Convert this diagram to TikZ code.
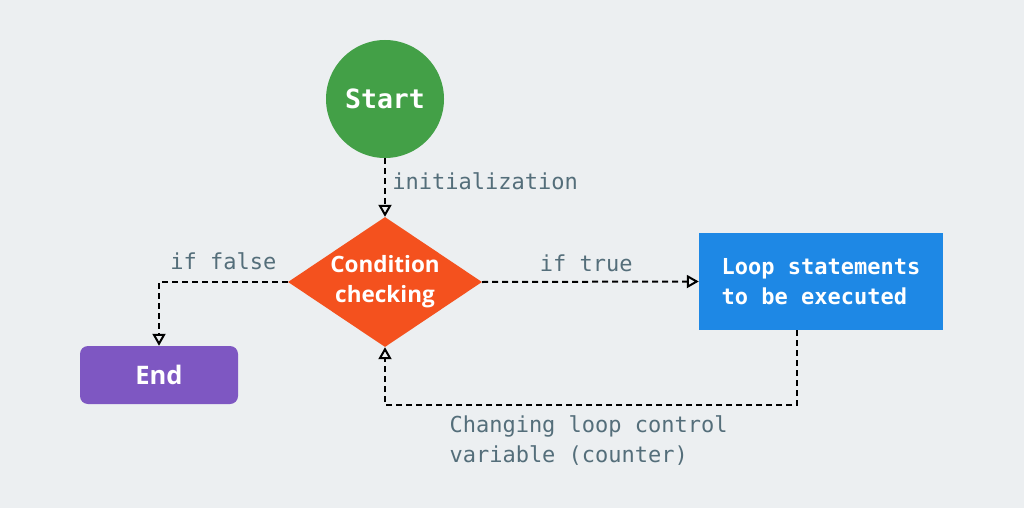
\documentclass[tikz,border=0pt]{standalone}
\usepackage{fontspec}
\setmonofont{DejaVu Sans Mono}
\setsansfont{Open Sans}[BoldFont={Open Sans Bold}]
\usetikzlibrary{positioning, arrows.meta, shapes.geometric}

\definecolor{bgcol}{HTML}{ECEFF1}
\definecolor{startcol}{HTML}{43A047}
\definecolor{condcol}{HTML}{F4511E}
\definecolor{loopcol}{HTML}{1E88E5}
\definecolor{endcol}{HTML}{7E57C2}
\definecolor{labelcol}{HTML}{546E7A}

\begin{document}
\begin{tikzpicture}[
    x=1pt, y=-1pt,
    % Define common styles
        startnode/.style={circle, fill=startcol, text=white, minimum size=118pt, inner sep=0pt, font=\ttfamily\bfseries\fontsize{26.5}{30}\selectfont},
        condnode/.style={diamond, fill=condcol, text=white, minimum width=194pt, minimum height=130pt, inner sep=-14pt, align=center, font=\sffamily\bfseries\fontsize{22.5}{30}\selectfont},
        loopnode/.style={rectangle, fill=loopcol, text=white, minimum width=244pt, minimum height=97pt, align=left, font=\ttfamily\bfseries\fontsize{22}{30}\selectfont},
        endnode/.style={rectangle, rounded corners=8pt, fill=endcol, text=white, minimum width=158pt, minimum height=58pt, font=\sffamily\bfseries\fontsize{25.5}{30}\selectfont},
        lbl/.style={text=labelcol, align=left, font=\ttfamily\fontsize{22}{30}\selectfont},
        arrow/.style={-{Triangle[open, length=12pt, width=13pt]}, line width=2pt, dash pattern=on 6pt off 4pt}
    ]

        % Background
        \fill[bgcol] (0,0) rectangle (1024,508);
        \useasboundingbox (0,0) rectangle (1024,508);

        % Flowchart nodes
        \node[startnode] (start) at (385,99) {Start};
        \node[condnode] (cond) at (385,282) {Condition\\checking};
        \node[loopnode] (loop) at (821,281.5) {Loop statements\\to be executed};
        \node[endnode] (end) at (159,375) {End};

        % Initialization arrow
        \draw[arrow] (start) -- node[lbl, right=3pt, pos=0.4] {initialization} (cond);

        % True and false branches
        \draw[arrow] (cond.east) -- node[lbl, above=6pt, pos=0.48] {if true} (loop.west);
        \draw[arrow] (cond.west) -| node[lbl, above=8pt, pos=0.25] {if false} (end.north);

        % Loop back to the condition
        \draw[arrow] ([xshift=-24pt]loop.south) -- ++(0,75) -| (cond.south);
        \node[lbl, anchor=west] (change) at (446,441) {Changing loop control\\variable (counter)};

    \end{tikzpicture}
\end{document}
